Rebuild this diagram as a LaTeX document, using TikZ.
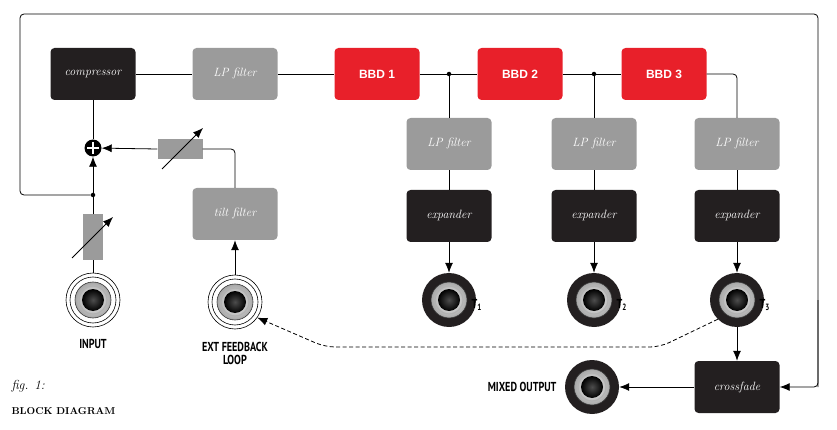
\documentclass[tikz,border=0pt]{standalone}
\usepackage{fontspec}
\newfontfamily\cond{PT Sans}[FakeStretch=0.78]
\newfontfamily\bsans{Liberation Sans}
\usetikzlibrary{arrows.meta,shadings}
\definecolor{bred}{HTML}{E8202A}
\definecolor{bgray}{HTML}{9B9B9B}
\definecolor{bblack}{HTML}{231F20}
\begin{document}
\begin{tikzpicture}[x=1pt,y=-1pt,
  blk/.style={rounded corners=4pt,minimum width=85pt,minimum height=52pt,text=white,font=\fontsize{12}{14}\selectfont\itshape},
  blackb/.style={blk,fill=bblack},
  grayb/.style={blk,fill=bgray},
  redb/.style={blk,fill=bred,font=\bsans\bfseries\fontsize{12}{14}\selectfont},
  ln/.style={line width=0.8pt,rounded corners=4pt},
  arr/.style={ln,-{Latex[length=10pt,width=8pt]}},
  pot/.style={fill=bgray,draw=none},
  lab/.style={font=\cond\bfseries\fontsize{13}{15}\selectfont},
  dot/.style={circle,fill=black,inner sep=0pt,minimum size=4.5pt}]
\useasboundingbox (0,0) rectangle (837,430);
% jacks
\newcommand{\jackcore}[1]{%
  \shade[inner color=white,outer color=gray!70] (#1) circle (18);
  \draw[gray!40!black,line width=0.6pt] (#1) circle (18);
  \draw[gray!60,line width=1.2pt] (#1) circle (14);
  \shade[inner color=gray!60!black,outer color=black] (#1) circle (11);}
\newcommand{\thinjack}[1]{%
  \draw[line width=0.6pt,fill=white] (#1) circle (27);
  \draw[line width=0.6pt] (#1) circle (23);
  \jackcore{#1}}
\newcommand{\thickjack}[1]{%
  \fill[bblack] (#1) circle (27);
  \jackcore{#1}}
% boxes
\node[blackb] (comp) at (93,74) {compressor};
\node[grayb] (lp0) at (235,74) {LP filter};
\node[redb] (b1) at (377,74) {BBD 1};
\node[redb] (b2) at (520,74) {BBD 2};
\node[redb] (b3) at (664,74) {BBD 3};
\foreach \i/\x in {1/449,2/594,3/737}{
  \node[grayb] (lp\i) at (\x,144) {LP filter};
  \node[blackb] (ex\i) at (\x,216) {expander};
  \coordinate (j\i) at (\x,300);
}
\node[grayb] (tilt) at (235,214) {tilt filter};
\node[blackb] (xf) at (737,387) {crossfade};
\coordinate (jin) at (93,300);
\coordinate (jext) at (235,302);
\coordinate (jmix) at (592,387);
\thinjack{jin}\thinjack{jext}
\thickjack{j1}\thickjack{j2}\thickjack{j3}\thickjack{jmix}
\node[circle,minimum size=54pt,inner sep=0pt] (Jin) at (jin) {};
\node[circle,minimum size=54pt,inner sep=0pt] (Jext) at (jext) {};
\node[circle,minimum size=54pt,inner sep=0pt] (J1) at (j1) {};
\node[circle,minimum size=54pt,inner sep=0pt] (J2) at (j2) {};
\node[circle,minimum size=54pt,inner sep=0pt] (J3) at (j3) {};
\node[circle,minimum size=54pt,inner sep=0pt] (Jmix) at (jmix) {};
% labels
\node[lab] (lin) at (93,344) {INPUT};
\node[lab,align=center] (lext) at (235,353) {EXT FEEDBACK\\[-2pt]LOOP};
\node[lab,anchor=east] (lmix) at (560,387) {MIXED OUTPUT};
\node[lab,anchor=west] (t1) at (468,305) {T\textsubscript{1}};
\node[lab,anchor=west] (t2) at (613,305) {T\textsubscript{2}};
\node[lab,anchor=west] (t3) at (756,305) {T\textsubscript{3}};
\node[anchor=west,font=\itshape\fontsize{13}{15}\selectfont] (fig) at (8,386) {fig. 1:};
\node[anchor=west,font=\bfseries\fontsize{10}{12}\selectfont] (bd) at (8,411) {BLOCK DIAGRAM};
% sum node
\node[circle,fill=black,minimum size=17pt,inner sep=0pt] (sum) at (93,148) {};
\draw[white,line width=2pt] (87,148) -- (99,148) (93,142) -- (93,154);
\node[dot] (d0) at (93,195) {};
\node[dot] (d1) at (449,74) {};
\node[dot] (d2) at (594,74) {};
% pots
\node[pot,minimum width=20pt,minimum height=45pt,inner sep=0pt] (pin) at (93,237) {};
\node[pot,minimum width=45pt,minimum height=20pt,inner sep=0pt] (pfb) at (180,149) {};
\coordinate (pinA) at (72,258); \coordinate (pinB) at (113,217);
\coordinate (pfbA) at (162,169); \coordinate (pfbB) at (203,128);
\draw[arr] (pinA) -- (pinB);
\draw[arr] (pfbA) -- (pfbB);
% connections
\draw[ln] (Jin) -- (pin);
\draw[ln] (pin) -- (d0);
\draw[arr] (d0) -- (sum);
\draw[ln] (sum) -- (comp);
\draw[ln] (comp) -- (lp0);
\draw[ln] (lp0) -- (b1);
\draw[ln] (b1) -- (b2);
\draw[ln] (b2) -- (b3);
\draw[ln] (d1) -- (lp1);
\draw[ln] (d2) -- (lp2);
\draw[ln] (b3.east) -| (lp3.north);
\foreach \i in {1,2,3}{
  \draw[ln] (lp\i) -- (ex\i);
  \draw[arr] (ex\i) -- (J\i);
}
\draw[arr] (Jext) -- (tilt);
\draw[ln] (tilt.north) |- (pfb.east);
\draw[arr] (pfb.west) -- (sum);
\draw[arr] (J3) -- (xf);
\draw[arr] (xf) -- (Jmix);
\coordinate (ca) at (20,14); \coordinate (cb) at (818,14); \coordinate (cc) at (818,387);
\draw[ln] (d0) -| (ca) -- (cb) -- (cc);
\draw[arr,rounded corners=4pt] (818,300) -- (cc) -- (xf.east);
\coordinate (da) at (660,347); \coordinate (db) at (325,347);
\draw[ln,dashed,dash pattern=on 4pt off 2.5pt,-{Latex[length=10pt,width=8pt]},rounded corners=10pt] (J3.225) -- (da) -- (db) -- (Jext.-35);
\end{tikzpicture}
\end{document}
